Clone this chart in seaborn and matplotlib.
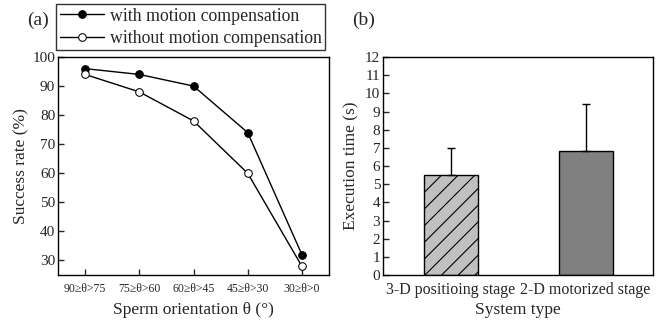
import numpy as np
import pandas as pd
import matplotlib
matplotlib.use('Agg')
import matplotlib.pyplot as plt
import seaborn as sns

# (a) success rate vs sperm orientation
orientations = ['90≥θ>75', '75≥θ>60', '60≥θ>45', '45≥θ>30', '30≥θ>0']
rate_with = [96, 94, 90, 74, 32]
rate_without = [94, 88, 78, 60, 28]

# (b) execution time by system type
systems = ['3-D positioing stage', '2-D motorized stage']
exec_time = [5.5, 6.8]
exec_err = [1.5, 2.6]

sns.set_theme(style='ticks')
plt.rcParams['font.family'] = ['Liberation Serif', 'DejaVu Serif']
plt.rcParams['xtick.direction'] = 'in'
plt.rcParams['ytick.direction'] = 'in'
plt.rcParams['axes.edgecolor'] = 'black'
plt.rcParams['axes.linewidth'] = 1.0
plt.rcParams['hatch.linewidth'] = 0.8

fig = plt.figure(figsize=(6.62, 3.22), dpi=100)
ax1 = fig.add_axes([58 / 662, 1 - 275 / 322, 271 / 662, 218 / 322])
ax2 = fig.add_axes([383 / 662, 1 - 275 / 322, 270 / 662, 218 / 322])

df_a = pd.DataFrame({'orientation': orientations * 2,
                     'rate': rate_with + rate_without,
                     'series': ['with motion compensation'] * 5 + ['without motion compensation'] * 5})

sns.lineplot(data=df_a[df_a.series == 'with motion compensation'], x='orientation', y='rate',
             ax=ax1, color='black', lw=1, marker='o', ms=5.5, mfc='black', mec='black',
             sort=False, label='with motion compensation')
sns.lineplot(data=df_a[df_a.series == 'without motion compensation'], x='orientation', y='rate',
             ax=ax1, color='black', lw=1, marker='o', ms=5.5, mfc='white', mec='black',
             sort=False, label='without motion compensation')

ax1.set_xlim(-0.5, 4.5)
ax1.set_ylim(25, 100)
ax1.set_yticks(range(30, 101, 10))
ax1.tick_params(axis='x', labelsize=8.5, length=4, width=1, pad=6)
ax1.tick_params(axis='y', labelsize=11, length=4, width=1, pad=2)
ax1.set_xlabel('Sperm orientation θ (°)', fontsize=12.5, labelpad=5)
ax1.set_ylabel('Success rate (%)', fontsize=12.5, labelpad=2)
leg = ax1.legend(loc='lower center', bbox_to_anchor=(0.49, 1.03), fontsize=12.8, frameon=True,
                 fancybox=False, edgecolor='black', borderpad=0.2, labelspacing=0.3,
                 handlelength=2.5, handletextpad=0.3, borderaxespad=0)
leg.get_frame().set_linewidth(1.0)
fig.text(27 / 662, 1 - 20 / 322, '(a)', fontsize=14, va='center', ha='left')

df_b = pd.DataFrame({'system': systems, 'time': exec_time})
sns.barplot(data=df_b, x='system', y='time', ax=ax2, width=0.4,
            palette=['#c0c0c0', '#808080'], hue='system', legend=False,
            edgecolor='black', linewidth=1)
ax2.patches[0].set_hatch('//')
ax2.errorbar(np.arange(len(systems)), exec_time, yerr=[np.zeros(len(exec_err)), exec_err],
             fmt='none', ecolor='black', elinewidth=1, capsize=3, capthick=1)
ax2.set_xlim(-0.5, 1.5)
ax2.set_ylim(0, 12)
ax2.set_yticks(range(0, 13))
ax2.tick_params(axis='x', labelsize=11.5, length=0, pad=5)
ax2.tick_params(axis='y', labelsize=11, length=4, width=1, pad=2)
ax2.set_xlabel('System type', fontsize=12.5, labelpad=3)
ax2.set_ylabel('Execution time (s)', fontsize=12.5, labelpad=4)
fig.text(352 / 662, 1 - 20 / 322, '(b)', fontsize=14, va='center', ha='left')

for ax in (ax1, ax2):
    for s in ax.spines.values():
        s.set_visible(True)
        s.set_color('black')
        s.set_linewidth(1.0)

fig.savefig('out.png', dpi=100)
